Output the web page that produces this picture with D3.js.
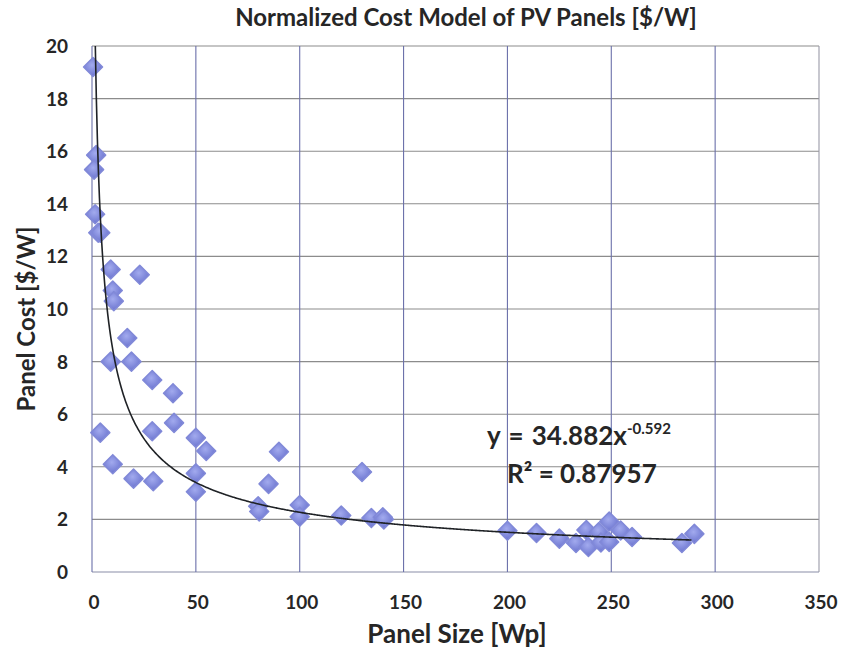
<!DOCTYPE html>
<html>
<head>
<meta charset="utf-8">
<script src="https://cdn.jsdelivr.net/npm/d3@7/dist/d3.min.js"></script>
<style>
  body { margin: 0; background: #fff; }
  text { font-family: Lato, "Open Sans", sans-serif; font-weight: 700; fill: #262626; }
</style>
</head>
<body>
<div id="chart"></div>
<script>
// panel data
var panelSize = [0.5, 2, 1, 1.5, 3, 4, 9, 23, 10, 10.5, 17, 9, 19, 29, 39, 4, 29, 39.5, 50, 55,
    90, 10, 20, 29.5, 50, 50, 85, 80, 80.5, 100, 100, 120, 130, 134.5, 140, 140.5,
    200, 214, 225, 233, 238, 239, 244, 245, 249, 249, 254.5, 260, 284, 290];
var panelCost = [19.2, 15.85, 15.3, 13.6, 12.9, 12.9, 11.5, 11.3, 10.7, 10.3, 8.9, 8.0, 8.0, 7.3, 6.8, 5.3, 5.35, 5.67, 5.1, 4.6,
    4.57, 4.1, 3.55, 3.45, 3.75, 3.05, 3.35, 2.5, 2.3, 2.55, 2.1, 2.15, 3.8, 2.05, 2.08, 2.0,
    1.57, 1.48, 1.27, 1.1, 1.6, 0.95, 1.52, 1.12, 1.92, 1.14, 1.58, 1.33, 1.1, 1.45];
var xTicks = [0, 50, 100, 150, 200, 250, 300, 350];
var yTicks = [0, 2, 4, 6, 8, 10, 12, 14, 16, 18, 20];
var fitA = 34.882, fitB = -0.592, fitR2 = "0.87957";

var width = 842, height = 651;
var svg = d3.select("#chart").append("svg")
    .attr("width", width)
    .attr("height", height);

var x = d3.scaleLinear().domain([0, 350]).range([92, 819]);
var y = d3.scaleLinear().domain([0, 20]).range([572, 46]);

// marker gradient
var defs = svg.append("defs");
var grad = defs.append("radialGradient")
    .attr("id", "dia")
    .attr("cx", "45%").attr("cy", "40%").attr("r", "60%");
grad.append("stop").attr("offset", "0%").attr("stop-color", "#a2aaee");
grad.append("stop").attr("offset", "100%").attr("stop-color", "#6b74cf");

// grid
svg.append("g").selectAll("line.h")
    .data(yTicks)
    .enter().append("line")
    .attr("x1", x(0)).attr("x2", x(350))
    .attr("y1", function(d) { return y(d); })
    .attr("y2", function(d) { return y(d); })
    .attr("stroke", function(d) { return d === 0 ? "#8a8ea8" : "#8c8c8c"; })
    .attr("stroke-width", 1.1);

svg.append("g").selectAll("line.v")
    .data(xTicks)
    .enter().append("line")
    .attr("x1", function(d) { return x(d); })
    .attr("x2", function(d) { return x(d); })
    .attr("y1", y(20)).attr("y2", y(0))
    .attr("stroke", function(d) { return d === 350 ? "#9a9aa8" : "#6b70aa"; })
    .attr("stroke-width", 1.1);

// tick labels
svg.append("g").selectAll("text")
    .data(yTicks)
    .enter().append("text")
    .attr("x", 68)
    .attr("y", function(d) { return y(d) + 7; })
    .attr("text-anchor", "end")
    .style("font-size", "19px")
    .text(function(d) { return d; });

svg.append("g").selectAll("text")
    .data(xTicks)
    .enter().append("text")
    .attr("x", function(d) { return x(d) + 2; })
    .attr("y", 609)
    .attr("text-anchor", "middle")
    .style("font-size", "19px")
    .text(function(d) { return d; });

// titles
svg.append("text")
    .attr("x", 466).attr("y", 26)
    .attr("text-anchor", "middle")
    .style("font-size", "24px")
    .text("Normalized Cost Model of PV Panels [$/W]");

svg.append("text")
    .attr("x", 457).attr("y", 643)
    .attr("text-anchor", "middle")
    .style("font-size", "26px")
    .text("Panel Size [Wp]");

svg.append("text")
    .attr("transform", "translate(35,319) rotate(-90)")
    .attr("text-anchor", "middle")
    .style("font-size", "24px")
    .text("Panel Cost [$/W]");

// power trendline
var xStart = Math.pow(20 / fitA, 1 / fitB);
var fitPts = d3.range(xStart, 290.01, 0.5).map(function(v) { return [v, fitA * Math.pow(v, fitB)]; });
var line = d3.line()
    .x(function(d) { return x(d[0]) - 2; })
    .y(function(d) { return y(d[1]); })
    .curve(d3.curveMonotoneX);

// points
var pts = panelSize.map(function(s, i) { return [s, panelCost[i]]; });
var half = 9.5;
svg.append("g").selectAll("path")
    .data(pts)
    .enter().append("path")
    .attr("transform", function(d) { return "translate(" + x(d[0]) + "," + y(d[1]) + ")"; })
    .attr("d", "M0," + (-half) + "L" + half + ",0L0," + half + "L" + (-half) + ",0Z")
    .attr("fill", "url(#dia)")
    .attr("stroke", "#8189d8")
    .attr("stroke-width", 1.5)
    .attr("stroke-linejoin", "round");

svg.append("path")
    .datum(fitPts)
    .attr("d", line)
    .attr("fill", "none")
    .attr("stroke", "#1f2226")
    .attr("stroke-width", 1.6);

// equation
var eq = svg.append("text")
    .attr("x", 487).attr("y", 445)
    .style("font-size", "26px")
    .style("word-spacing", "2px");
eq.append("tspan").text("y = " + fitA + "x");
eq.append("tspan").attr("dy", -11).style("font-size", "15px").style("word-spacing", "0px").text(String(fitB));

svg.append("text")
    .attr("x", 507).attr("y", 483)
    .style("font-size", "26px")
    .text("R\u00b2 = " + fitR2);
</script>
</body>
</html>
